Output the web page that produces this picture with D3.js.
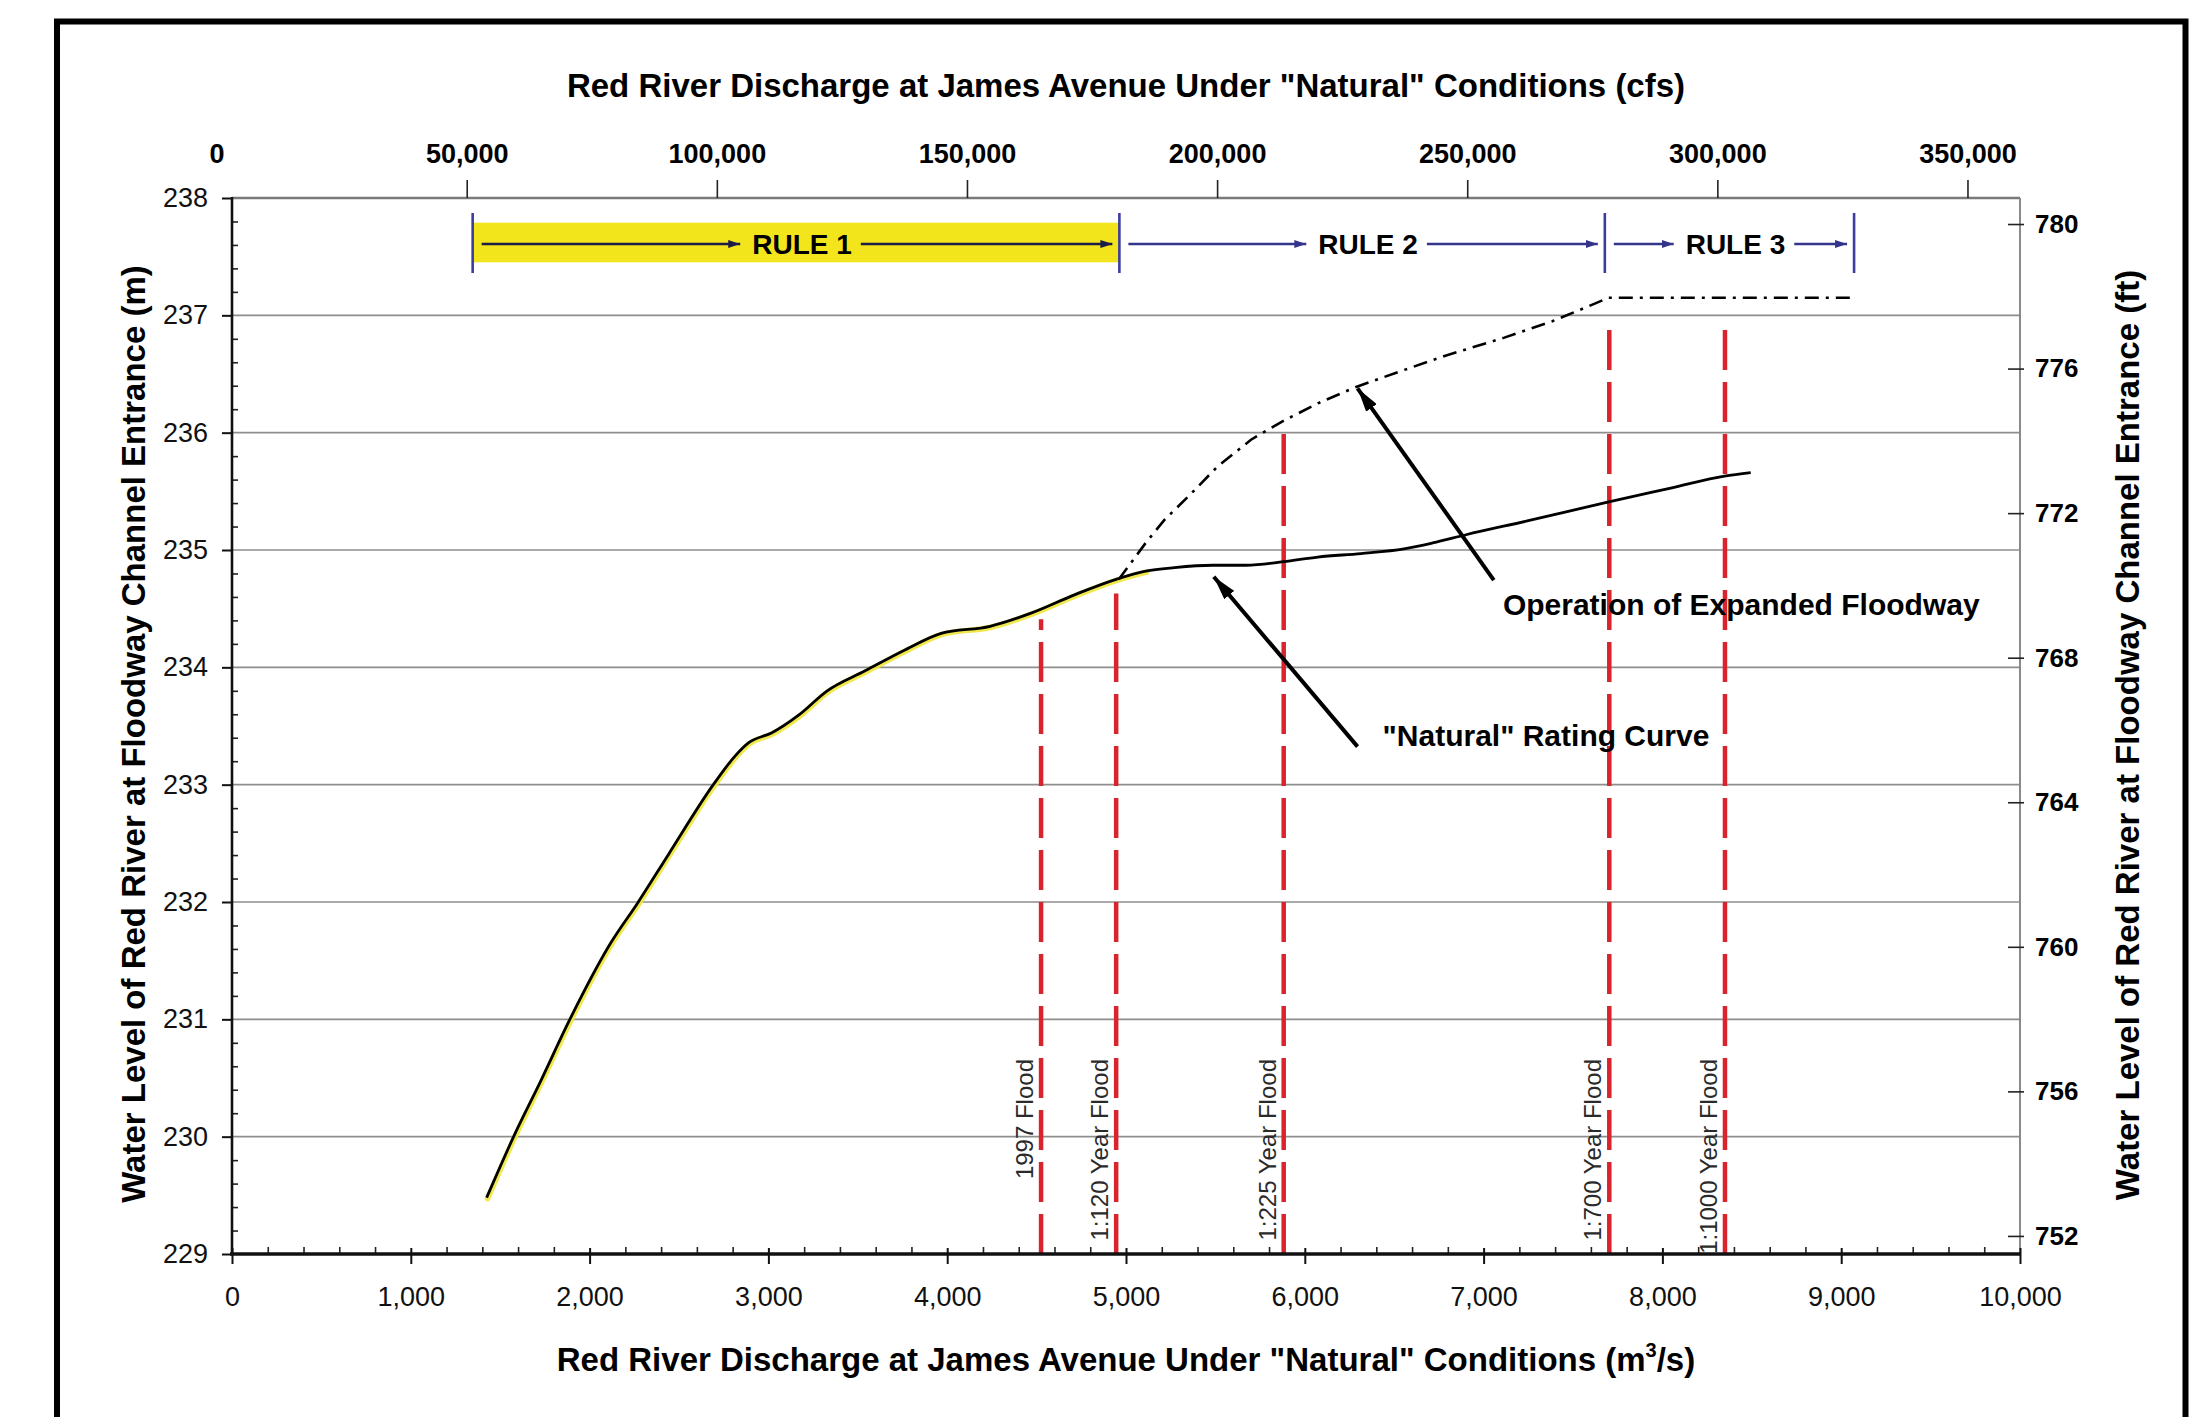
<!DOCTYPE html>
<html><head><meta charset="utf-8">
<script src="https://cdn.jsdelivr.net/npm/d3@7"></script>
<style>
body{margin:0;background:#fff;}
text{font-family:"Liberation Sans",Arial,Helvetica,sans-serif;}
</style>
</head><body>
<svg id="chart" width="2191" height="1417"></svg>
<script>
// ---------------- DATA ----------------
const naturalQ     = [1424,1581,1719,1893,2118,2268,2443,2692,2817,2892,3017,3167,3329,3541,3766,3966,4240,4465,4715,4944,5110,5271,5484,5672,5880,6073,6314,6555,6715,6902,7250,7700,8053,8347,8494];
const naturalLevel = [229.48,230.02,230.45,231.01,231.65,231.99,232.41,233.00,233.25,233.36,233.44,233.59,233.80,233.97,234.15,234.29,234.35,234.46,234.62,234.75,234.82,234.85,234.87,234.87,234.90,234.94,234.97,235.01,235.06,235.13,235.25,235.41,235.53,235.63,235.66];
const expandedQ     = [4960,5110,5217,5351,5511,5699,5880,6073,6287,6528,6795,7116,7384,7544,7700,9060];
const expandedLevel = [234.75,235.06,235.26,235.46,235.71,235.94,236.10,236.25,236.39,236.52,236.66,236.81,236.95,237.05,237.15,237.15];
const floodNames = ["1997 Flood","1:120 Year Flood","1:225 Year Flood","1:700 Year Flood","1:1000 Year Flood"];
const floodQ     = [4525,4945,5882,7703,8350];
const floodTop   = [234.41,234.63,236.05,236.97,236.95];
const ruleNames  = ["RULE 1","RULE 2","RULE 3"];
const ruleBounds = [1346,4963,7678,9072];
const highlightMaxQ = 5110;
const xTicks   = d3.range(0,10001,1000);
const xMinor   = d3.range(0,10001,200).filter(d=>d%1000!==0);
const yTicks   = d3.range(229,238.001,1);
const yMinor   = d3.range(229,238.001,0.2).filter(d=>Math.abs(d-Math.round(d))>0.01);
const cfsTicks = d3.range(0,350001,50000);
const ftTicks  = [752,756,760,764,768,772,776,780];
const xDomain = [0,10000], yDomain = [229,238];
const cfsDomain = [3080,360500], ftDomain = [751.5,780.72];

// ---------------- LAYOUT ----------------
const svg = d3.select("#chart");
const L=232, R=2020, T=198, B=1254;
const x = d3.scaleLinear().domain(xDomain).range([L,R]);
const y = d3.scaleLinear().domain(yDomain).range([B,T]);
const xTop = d3.scaleLinear().domain(cfsDomain).range([L,R]);
const yFt = d3.scaleLinear().domain(ftDomain).range([B,T]);
const FONT = '"Liberation Sans",Arial,Helvetica,sans-serif';

// frame
svg.append("rect").attr("x",0).attr("y",0).attr("width",2191).attr("height",1417).attr("fill","#fff");
svg.append("rect").attr("x",57).attr("y",21.5).attr("width",2128.5).attr("height",1430)
  .attr("fill","none").attr("stroke","#000").attr("stroke-width",6);

// markers
const defs = svg.append("defs");
function marker(id,color,len,wid){
  defs.append("marker").attr("id",id).attr("markerUnits","userSpaceOnUse")
    .attr("viewBox",`0 ${-wid/2} ${len} ${wid}`).attr("refX",len).attr("refY",0)
    .attr("markerWidth",len).attr("markerHeight",wid).attr("orient","auto")
    .append("path").attr("d",`M0,${-wid/2}L${len},0L0,${wid/2}Z`).attr("fill",color);
}
marker("arrNavy","#34348a",12,8);
marker("arrDark","#1c1c48",12,8);
marker("arrBlack","#000",24,13);

// gridlines
svg.append("g").selectAll("line").data(yTicks.filter(d=>d>229 && d<238)).join("line")
  .attr("x1",L).attr("x2",R).attr("y1",d=>y(d)).attr("y2",d=>y(d))
  .attr("stroke","#8e8e8e").attr("stroke-width",1.6);
// plot top & right border
svg.append("line").attr("x1",L).attr("x2",R).attr("y1",T).attr("y2",T).attr("stroke","#7a7a7a").attr("stroke-width",2.6);
svg.append("line").attr("x1",R).attr("x2",R).attr("y1",T).attr("y2",B).attr("stroke","#8a8a8a").attr("stroke-width",2);

// ---------------- RULE BANDS ----------------
const bandTop = T+15, bandBot = T+75, boxTop = T+24.7, boxBot = T+64.3, arrowY = T+46;
const gR = svg.append("g");
gR.append("rect").attr("x",x(ruleBounds[0])).attr("y",boxTop)
  .attr("width",x(ruleBounds[1])-x(ruleBounds[0])).attr("height",boxBot-boxTop).attr("fill","#f2e51c");
ruleNames.forEach((name,i)=>{
  const a = x(ruleBounds[i]), b = x(ruleBounds[i+1]);
  const cx = (a+b)/2 + 6;
  const t = gR.append("text").attr("x",cx).attr("y",arrowY).attr("dy","0.36em")
    .attr("text-anchor","middle").attr("font-size",28).attr("font-weight","bold").attr("fill","#000").text(name);
  const w = t.node().getComputedTextLength();
  const col = i===0 ? "#1c1c48" : "#34348a";
  const mk = i===0 ? "url(#arrDark)" : "url(#arrNavy)";
  gR.append("line").attr("x1",a+9).attr("x2",cx-w/2-12).attr("y1",arrowY).attr("y2",arrowY)
    .attr("stroke",col).attr("stroke-width",2.6).attr("marker-end",mk);
  gR.append("line").attr("x1",cx+w/2+9).attr("x2",b-7).attr("y1",arrowY).attr("y2",arrowY)
    .attr("stroke",col).attr("stroke-width",2.6).attr("marker-end",mk);
});
gR.selectAll("line.bound").data(ruleBounds).join("line").attr("class","bound")
  .attr("x1",d=>x(d)).attr("x2",d=>x(d)).attr("y1",bandTop).attr("y2",bandBot)
  .attr("stroke","#3d3d9e").attr("stroke-width",2.6);

// ---------------- FLOOD LINES ----------------
const gF = svg.append("g");
gF.selectAll("line").data(floodQ).join("line")
  .attr("x1",d=>x(d)).attr("x2",d=>x(d)).attr("y1",B).attr("y2",(d,i)=>y(floodTop[i]))
  .attr("stroke","#d9232d").attr("stroke-width",4.5).attr("stroke-dasharray","40,12");
gF.selectAll("text").data(floodNames).join("text")
  .attr("transform",(d,i)=>`translate(${x(floodQ[i])-8},1059) rotate(-90)`)
  .attr("text-anchor","end").attr("font-size",24).attr("fill","#2a2a2a").text(d=>d);

// ---------------- CURVES ----------------
const nat = naturalQ.map((q,i)=>[q,naturalLevel[i]]);
const exp = expandedQ.map((q,i)=>[q,expandedLevel[i]]);
const line = d3.line().x(d=>x(d[0])).y(d=>y(d[1])).curve(d3.curveMonotoneX);
svg.append("path").datum(nat.filter(d=>d[0]<=highlightMaxQ)).attr("d",line)
  .attr("fill","none").attr("stroke","#f0e63a").attr("stroke-width",5.5).attr("stroke-opacity",0.9)
  .attr("stroke-linecap","round").attr("transform","translate(1,1)");
svg.append("path").datum(exp).attr("d",d3.line().x(d=>x(d[0])).y(d=>y(d[1])))
  .attr("fill","none").attr("stroke","#000").attr("stroke-width",2.6).attr("stroke-dasharray","14,7,3,7");
svg.append("path").datum(nat).attr("d",line)
  .attr("fill","none").attr("stroke","#000").attr("stroke-width",2.8);

// ---------------- ANNOTATIONS ----------------
const ann = svg.append("g");
ann.append("line").attr("x1",x(7057)).attr("y1",y(234.744)).attr("x2",x(6295)).attr("y2",y(236.378))
  .attr("stroke","#000").attr("stroke-width",4).attr("marker-end","url(#arrBlack)");
ann.append("line").attr("x1",x(6295)).attr("y1",y(233.324)).attr("x2",x(5491)).attr("y2",y(234.772))
  .attr("stroke","#000").attr("stroke-width",4).attr("marker-end","url(#arrBlack)");
ann.append("text").attr("x",x(7108)).attr("y",y(234.446)).attr("font-size",30).attr("font-weight","bold")
  .text("Operation of Expanded Floodway");
ann.append("text").attr("x",x(6435)).attr("y",y(233.33)).attr("font-size",30).attr("font-weight","bold")
  .text('"Natural" Rating Curve');

// ---------------- AXES ----------------
// bottom
const gx = svg.append("g").attr("transform",`translate(0,${B})`)
  .call(d3.axisBottom(x).tickValues(xTicks).tickSize(10).tickFormat(d3.format(",")));
gx.select(".domain").remove();
gx.selectAll(".tick line").attr("y1",-6).attr("y2",10).attr("stroke","#111").attr("stroke-width",2);
gx.selectAll(".tick text").attr("y",52).attr("dy",0).attr("font-size",27).attr("font-family",FONT).attr("fill","#111");
const gxm = svg.append("g").attr("transform",`translate(0,${B})`)
  .call(d3.axisTop(x).tickValues(xMinor).tickSize(7).tickFormat(""));
gxm.select(".domain").remove();
gxm.selectAll(".tick line").attr("stroke","#222").attr("stroke-width",1.6);
svg.append("line").attr("x1",L-2).attr("x2",R+1).attr("y1",B).attr("y2",B).attr("stroke","#111").attr("stroke-width",3.5);

// left
const gy = svg.append("g").attr("transform",`translate(${L},0)`)
  .call(d3.axisLeft(y).tickValues(yTicks).tickSize(10).tickFormat(d3.format("d")));
gy.select(".domain").remove();
gy.selectAll(".tick line").attr("stroke","#111").attr("stroke-width",2);
gy.selectAll(".tick text").attr("x",-24).attr("font-size",27).attr("font-family",FONT).attr("fill","#111");
const gym = svg.append("g").attr("transform",`translate(${L},0)`)
  .call(d3.axisRight(y).tickValues(yMinor).tickSize(6).tickFormat(""));
gym.select(".domain").remove();
gym.selectAll(".tick line").attr("stroke","#222").attr("stroke-width",1.6);
svg.append("line").attr("x1",L).attr("x2",L).attr("y1",T-1).attr("y2",B+1).attr("stroke","#111").attr("stroke-width",2.6);

// top (cfs)
const gt = svg.append("g").attr("transform",`translate(0,${T})`)
  .call(d3.axisTop(xTop).tickValues(cfsTicks).tickSize(18).tickFormat(d3.format(",")));
gt.select(".domain").remove();
gt.selectAll(".tick line").attr("stroke","#222").attr("stroke-width",1.6)
  .attr("display",d=>d<cfsDomain[0]?"none":null);
gt.selectAll(".tick text").attr("y",-35).attr("dy",0).attr("font-size",27).attr("font-weight","bold")
  .attr("font-family",FONT).attr("fill","#000");

// right (ft)
const gr = svg.append("g").attr("transform",`translate(${R},0)`)
  .call(d3.axisRight(yFt).tickValues(ftTicks).tickSize(4).tickFormat(d3.format("d")));
gr.select(".domain").remove();
gr.selectAll(".tick line").attr("x1",-12).attr("x2",4).attr("stroke","#222").attr("stroke-width",1.6);
gr.selectAll(".tick text").attr("x",15).attr("font-size",26).attr("font-weight","bold")
  .attr("font-family",FONT).attr("fill","#000");

// ---------------- TITLES ----------------
svg.append("text").attr("x",(L+R)/2).attr("y",97).attr("text-anchor","middle")
  .attr("font-size",33).attr("font-weight","bold").text('Red River Discharge at James Avenue Under "Natural" Conditions (cfs)');
const bt = svg.append("text").attr("x",(L+R)/2).attr("y",1371).attr("text-anchor","middle")
  .attr("font-size",33).attr("font-weight","bold");
bt.append("tspan").text('Red River Discharge at James Avenue Under "Natural" Conditions (m');
bt.append("tspan").attr("font-size",20).attr("dy",-14).text("3");
bt.append("tspan").attr("dy",14).text("/s)");
svg.append("text").attr("transform","translate(145,734) rotate(-90)").attr("text-anchor","middle")
  .attr("font-size",33).attr("font-weight","bold").text("Water Level of Red River at Floodway Channel Entrance (m)");
svg.append("text").attr("transform","translate(2139,735) rotate(-90)").attr("text-anchor","middle")
  .attr("font-size",33).attr("font-weight","bold").text("Water Level of Red River at Floodway Channel Entrance (ft)");
</script>
</body></html>
